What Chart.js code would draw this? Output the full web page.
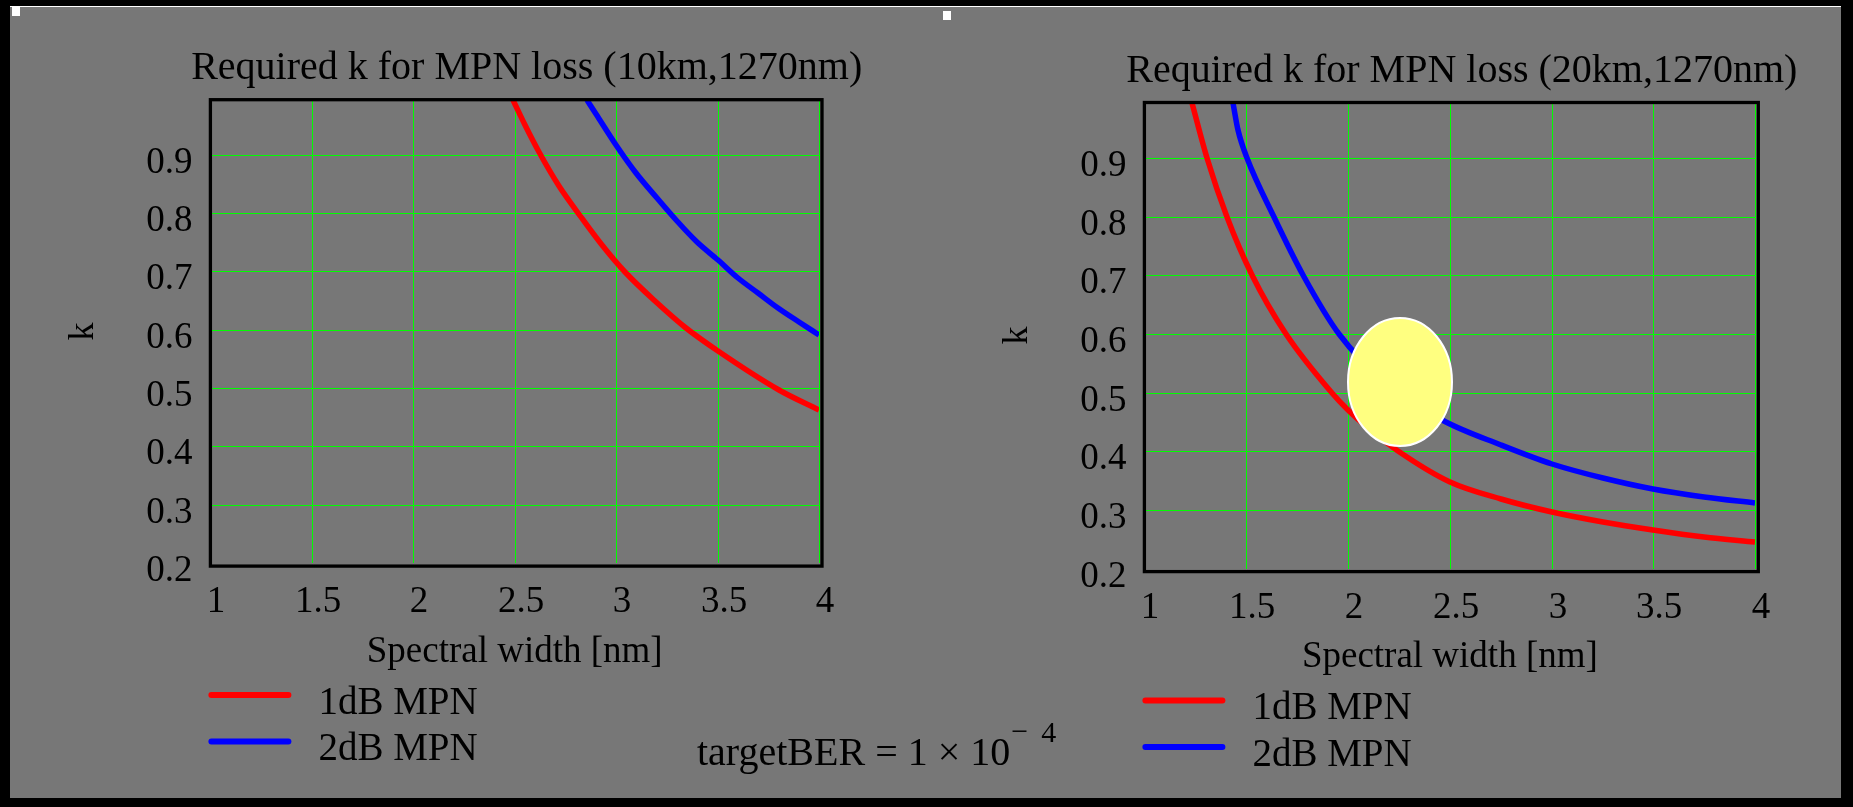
<!DOCTYPE html>
<html>
<head>
<meta charset="utf-8">
<title>Required k for MPN loss</title>
<script src="https://cdn.jsdelivr.net/npm/chart.js@4.4.1/dist/chart.umd.min.js"></script>
<style>
  html, body { margin: 0; padding: 0; background: #000; }
  body { width: 1853px; height: 807px; position: relative; overflow: hidden; }
  #sheet { position: absolute; left: 10px; top: 6px; width: 1831px; height: 791px; background: #777; border-top: 1px solid #fff; }
  canvas { position: absolute; top: 0; }
  #c10 { left: 0; }
  #c20 { left: 934px; }
  .handle { position: absolute; background: #fff; width: 8px; height: 9px; }
</style>
</head>
<body>
<div id="sheet"></div>
<div class="handle" style="left:12px;top:7px"></div>
<div class="handle" style="left:943px;top:11px"></div>
<canvas id="c10" width="1100" height="807"></canvas>
<canvas id="c20" width="919" height="807"></canvas>
<script>
const xTicks = [1, 1.5, 2, 2.5, 3, 3.5, 4];
const xTickLabels = ['1', '1.5', '2', '2.5', '3', '3.5', '4'];
const yTicks = [0.2, 0.3, 0.4, 0.5, 0.6, 0.7, 0.8, 0.9];
const yTickLabels = ['0.2', '0.3', '0.4', '0.5', '0.6', '0.7', '0.8', '0.9'];
const seriesNames = ['1dB MPN', '2dB MPN'];

// 10 km, spectral width [nm] -> required k
const width10Red = [2.49, 2.55, 2.62, 2.72, 2.826, 2.93, 3.045, 3.19, 3.343, 3.5, 3.805, 4.0];
const k10Red = [0.994, 0.950, 0.904, 0.846, 0.793, 0.745, 0.699, 0.649, 0.603, 0.564, 0.497, 0.462];
const width10Blue = [2.858, 2.9, 3.0, 3.1, 3.2, 3.3, 3.4, 3.5, 3.6, 3.7, 3.8, 3.9, 4.0];
const k10Blue = [0.994, 0.969, 0.916, 0.868, 0.825, 0.786, 0.751, 0.719, 0.689, 0.662, 0.637, 0.613, 0.591];

// 20 km
const width20Red = [1.232, 1.309, 1.407, 1.527, 1.694, 1.919, 2.0, 2.1, 2.246, 2.5, 2.75, 3.0, 3.25, 3.5, 3.75, 4.0];
const k20Red = [0.995, 0.90, 0.80, 0.70, 0.60, 0.50, 0.47, 0.44, 0.40, 0.348, 0.319, 0.296, 0.279, 0.265, 0.254, 0.245];
const width20Blue = [1.434, 1.461, 1.502, 1.637, 1.78, 1.955, 2.2, 2.471, 2.75, 3.0, 3.25, 3.5, 3.75, 4.0];
const k20Blue = [0.995, 0.948, 0.90, 0.80, 0.70, 0.60, 0.512, 0.451, 0.41, 0.378, 0.354, 0.336, 0.322, 0.312];

const serif = "'Liberation Serif', 'Times New Roman', serif";
const green = '#00ff00';
Chart.defaults.font.family = serif;
Chart.defaults.color = '#000';

function toPoints(xs, ys) {
    return xs.map((x, i) => ({ x, y: ys[i] }));
}

function curve(label, xs, ys, color) {
    return {
        label,
        data: toPoints(xs, ys),
        borderColor: color,
        backgroundColor: color,
        borderWidth: 5.5,
        pointRadius: 0,
        cubicInterpolationMode: 'monotone',
        fill: false
    };
}

// frame, yellow marker, title, legend and the BER note
const decor = {
    id: 'decor',
    afterDatasetsDraw(chart, args, o) {
        const { ctx, chartArea: a, scales: { x, y } } = chart;
        ctx.save();
        if (o.mark) {
            const cx = x.getPixelForValue(o.mark.x);
            const cy = y.getPixelForValue(o.mark.y);
            const rx = x.getPixelForValue(o.mark.x + o.mark.rx) - cx;
            const ry = cy - y.getPixelForValue(o.mark.y + o.mark.ry);
            ctx.beginPath();
            ctx.ellipse(cx, cy, rx, ry, 0, 0, Math.PI * 2);
            ctx.fillStyle = '#ffff80';
            ctx.fill();
            ctx.lineWidth = 2;
            ctx.strokeStyle = '#fff';
            ctx.stroke();
        }
        ctx.strokeStyle = '#000';
        ctx.lineWidth = 3.3;
        ctx.strokeRect(a.left, a.top, a.width + 3, a.height + 3);
        ctx.restore();
    },
    afterDraw(chart, args, o) {
        const { ctx, chartArea: a } = chart;
        ctx.save();
        ctx.fillStyle = '#000';
        ctx.textBaseline = 'alphabetic';

        ctx.font = `40px ${serif}`;
        ctx.textAlign = 'center';
        ctx.fillText(o.title, (a.left + a.right) / 2 + 12, a.top - 21);

        ctx.textAlign = 'left';
        ctx.font = `39px ${serif}`;
        ctx.lineCap = 'round';
        chart.data.datasets.forEach((ds, i) => {
            const ly = a.bottom + 132 + i * 46.5;
            ctx.beginPath();
            ctx.moveTo(a.left + 1, ly);
            ctx.lineTo(a.left + 78, ly);
            ctx.lineWidth = 6;
            ctx.strokeStyle = ds.borderColor;
            ctx.stroke();
            ctx.fillText(ds.label, a.left + 108, ly + 18.5);
        });

        if (o.note) {
            ctx.font = `40px ${serif}`;
            const main = 'targetBER = 1 \u00d7 10';
            ctx.fillText(main, o.note.x, o.note.y);
            const end = o.note.x + ctx.measureText(main).width;
            ctx.font = `30px ${serif}`;
            ctx.fillText('\u2212', end + 1, o.note.y - 24);
            ctx.fillText('4', end + 31, o.note.y - 23);
        }
        ctx.restore();
    }
};

function makeChart(id, title, red, blue, area, extra) {
    const canvas = document.getElementById(id);
    return new Chart(canvas, {
        type: 'line',
        data: {
            datasets: [
                curve(seriesNames[0], red[0], red[1], '#ff0000'),
                curve(seriesNames[1], blue[0], blue[1], '#0000ff')
            ]
        },
        options: {
            responsive: false,
            animation: false,
            layout: {
                padding: {
                    left: 0,
                    top: area.top,
                    right: canvas.width - area.right,
                    bottom: canvas.height - area.bottom - 130
                }
            },
            plugins: {
                legend: { display: false },
                title: { display: false },
                tooltip: { enabled: false },
                decor: Object.assign({ title }, extra)
            },
            scales: {
                x: {
                    type: 'linear',
                    min: 1,
                    max: 4,
                    alignToPixels: true,
                    afterBuildTicks: ax => { ax.ticks = xTicks.map(value => ({ value })); },
                    afterFit: ax => { ax.height = 130; },
                    ticks: {
                        callback: (v, i) => xTickLabels[i],
                        font: { size: 37 },
                        padding: 17,
                        labelOffset: 6,
                        maxRotation: 0,
                        autoSkip: false
                    },
                    grid: {
                        color: c => c.index === 0 ? 'rgba(0,0,0,0)' : green,
                        lineWidth: 1,
                        drawTicks: false
                    },
                    border: { display: false },
                    title: {
                        display: true,
                        text: 'Spectral width [nm]',
                        font: { size: 37 },
                        padding: { top: 0, bottom: 19 }
                    }
                },
                y: {
                    type: 'linear',
                    min: 0.2,
                    max: area.yMax,
                    alignToPixels: true,
                    afterBuildTicks: ax => { ax.ticks = yTicks.map(value => ({ value })); },
                    afterFit: ax => { ax.width = 210.4; },
                    ticks: {
                        callback: (v, i) => yTickLabels[i],
                        font: { size: 37 },
                        padding: 18,
                        labelOffset: 8,
                        autoSkip: false
                    },
                    grid: {
                        color: c => c.index === 0 ? 'rgba(0,0,0,0)' : green,
                        lineWidth: 1,
                        drawTicks: false
                    },
                    border: { display: false },
                    title: {
                        display: true,
                        text: 'k',
                        font: { size: 36 },
                        padding: { top: 62.4, bottom: 0 }
                    }
                }
            }
        },
        plugins: [decor]
    });
}

makeChart('c10', 'Required k for MPN loss (10km,1270nm)',
    [width10Red, k10Red], [width10Blue, k10Blue],
    { top: 99.7, bottom: 563.1, right: 819, yMax: 0.994 },
    { note: { x: 697, y: 765 } });

makeChart('c20', 'Required k for MPN loss (20km,1270nm)',
    [width20Red, k20Red], [width20Blue, k20Blue],
    { top: 102.5, bottom: 568.6, right: 1755.3 - 934, yMax: 0.995 },
    { mark: { x: 2.257, y: 0.518, rx: 0.255, ry: 0.109 } });
</script>
</body>
</html>
